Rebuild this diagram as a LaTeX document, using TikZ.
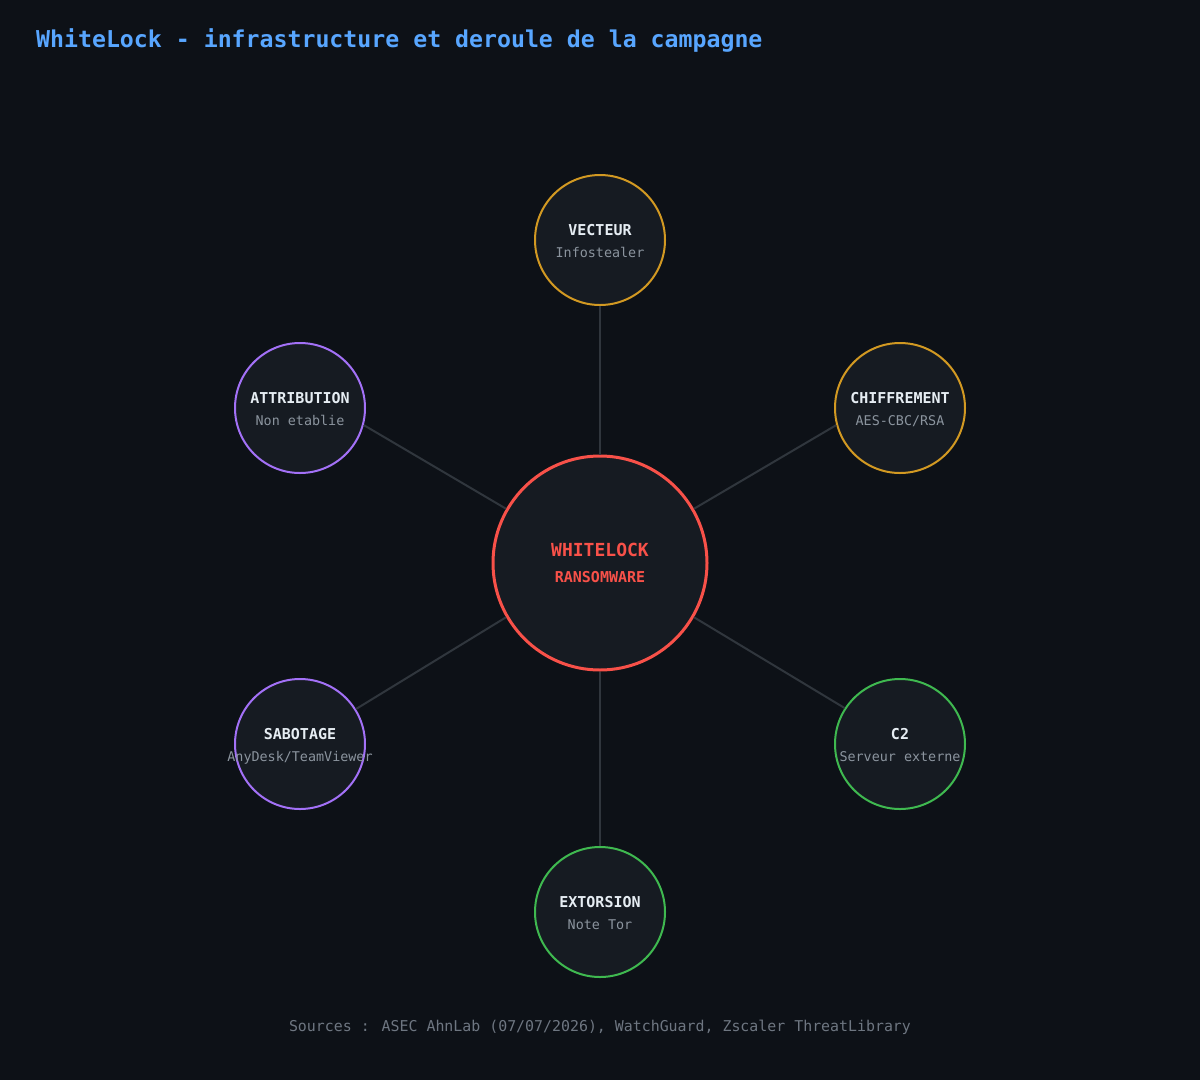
\documentclass[tikz,border=0pt]{standalone}
\usepackage{fontspec}
\setmainfont{DejaVu Sans Mono}
\setmonofont{DejaVu Sans Mono}
\definecolor{bg}{HTML}{0D1117}
\definecolor{nodefill}{HTML}{161B22}
\definecolor{edgec}{HTML}{30363D}
\definecolor{titlec}{HTML}{58A6FF}
\definecolor{goldc}{HTML}{D29922}
\definecolor{greenc}{HTML}{3FB950}
\definecolor{purplec}{HTML}{A371F7}
\definecolor{redc}{HTML}{F85149}
\definecolor{whitec}{HTML}{E6EDF3}
\definecolor{subc}{HTML}{8B949E}
\definecolor{footc}{HTML}{6E7681}
\begin{document}
\begin{tikzpicture}[x=1pt,y=-1pt,
  sat/.style={circle,fill=nodefill,line width=2pt,minimum size=130pt,inner sep=0pt},
  core/.style={circle,fill=nodefill,draw=redc,line width=3pt,minimum size=214pt,inner sep=0pt},
  link/.style={draw=edgec,line width=2pt},
  ttl/.style={text=whitec,font=\fontsize{15}{15}\selectfont\bfseries,anchor=base},
  sub/.style={text=subc,font=\fontsize{13.4}{13.4}\selectfont,anchor=base}]
\fill[bg] (0,0) rectangle (1200,1080);
\useasboundingbox (0,0) rectangle (1200,1080);
\node[anchor=base west,text=titlec,font=\fontsize{23.2}{23.2}\selectfont\bfseries,inner sep=0pt] (title) at (36,47) {WhiteLock - infrastructure et deroule de la campagne};
% nodes
\node[core] (c) at (600,563) {};
\node[sat,draw=goldc] (v) at (600,240) {};
\node[sat,draw=goldc] (ch) at (900,408) {};
\node[sat,draw=greenc] (c2) at (900,744) {};
\node[sat,draw=greenc] (ex) at (600,912) {};
\node[sat,draw=purplec] (sa) at (300,744) {};
\node[sat,draw=purplec] (at) at (300,408) {};
% links
\draw[link] (c) -- (v);
\draw[link] (c.30) -- (ch.195);
\draw[link] (c.-30) -- (c2.147.5);
\draw[link] (c) -- (ex);
\draw[link] (c.210) -- (sa.32.5);
\draw[link] (c.150) -- (at.-15);
% center text
\node[anchor=base,text=redc,font=\fontsize{18}{18}\selectfont\bfseries] (ct1) at (600,556) {WHITELOCK};
\node[anchor=base,text=redc,font=\fontsize{15}{15}\selectfont\bfseries] (ct2) at (600,582) {RANSOMWARE};
% satellite text
\node[ttl] (vt) at (600,235) {VECTEUR};
\node[sub] (vs) at (600,257) {Infostealer};
\node[ttl] (cht) at (900,403) {CHIFFREMENT};
\node[sub] (chs) at (900,425) {AES-CBC/RSA};
\node[ttl] (c2t) at (900,739) {C2};
\node[sub] (c2s) at (900,761) {Serveur externe};
\node[ttl] (ext) at (600,907) {EXTORSION};
\node[sub] (exs) at (600,929) {Note Tor};
\node[ttl] (sat) at (300,739) {SABOTAGE};
\node[sub] (sas) at (300,761) {AnyDesk/TeamViewer};
\node[ttl] (att) at (300,403) {ATTRIBUTION};
\node[sub] (ats) at (300,425) {Non etablie};
% footer
\node[anchor=base,text=footc,font=\fontsize{14.9}{14.9}\selectfont] (foot) at (600,1031) {Sources : ASEC AhnLab (07/07/2026), WatchGuard, Zscaler ThreatLibrary};
\end{tikzpicture}
\end{document}
